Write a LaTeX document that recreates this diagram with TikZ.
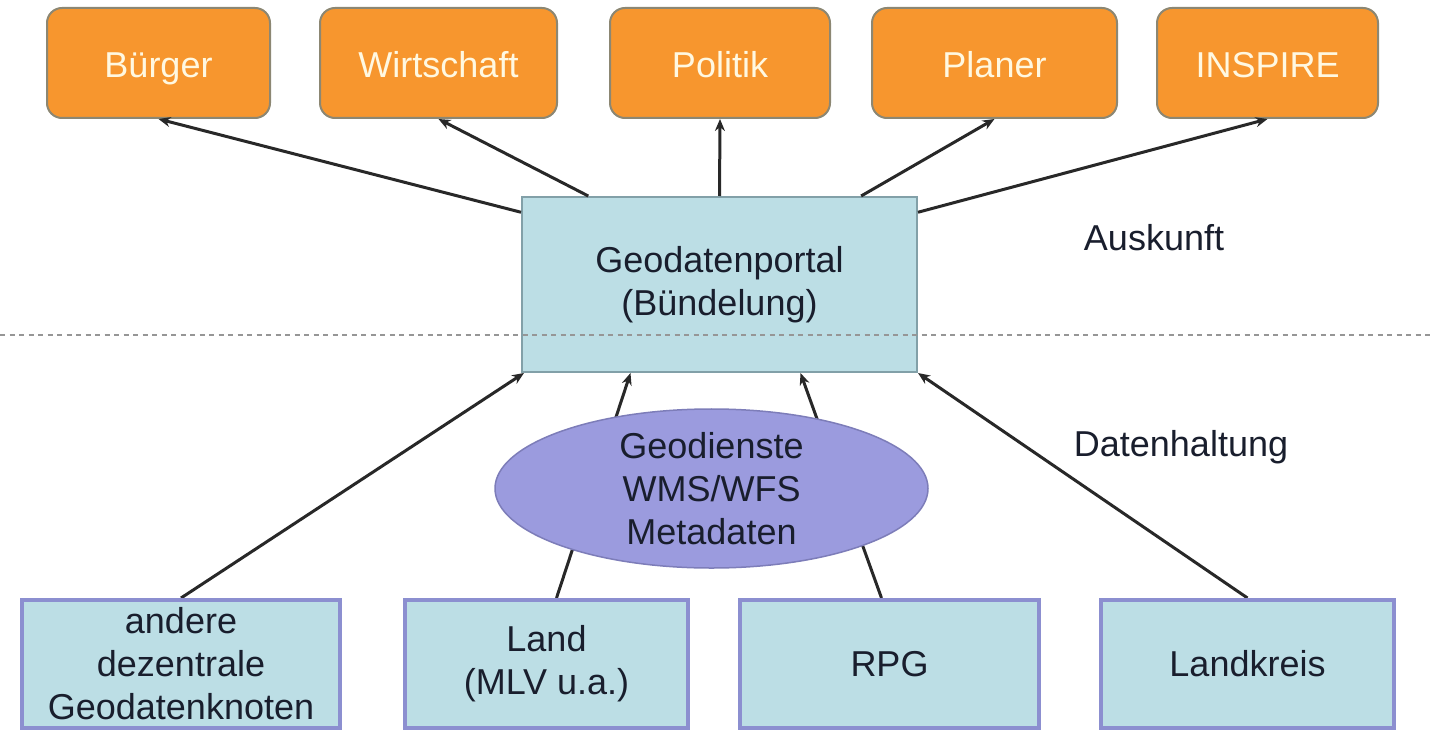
\documentclass[tikz,border=0pt]{standalone}
\usepackage{fontspec}
\setmainfont{Liberation Sans}
\usetikzlibrary{arrows.meta,calc,shapes.geometric,backgrounds}

\definecolor{orangefill}{RGB}{247,150,46}
\definecolor{orangeborder}{RGB}{140,135,115}
\definecolor{orangetext}{RGB}{255,248,225}
\definecolor{bluefill}{RGB}{188,222,229}
\definecolor{portalborder}{RGB}{130,160,168}
\definecolor{boxborder}{RGB}{140,143,208}
\definecolor{ellfill}{RGB}{155,155,222}
\definecolor{ellborder}{RGB}{125,125,185}
\definecolor{darktext}{RGB}{25,30,45}
\definecolor{linecol}{RGB}{40,40,40}
\definecolor{dotcol}{RGB}{150,150,150}

\begin{document}
\begin{tikzpicture}[x=1pt,y=-1pt,
  every node/.style={font=\fontsize{36}{43}\selectfont, align=center, inner sep=0pt},
  userbox/.style={draw=orangeborder, line width=2pt, fill=orangefill, rounded corners=15pt,
    minimum height=110pt, text=orangetext, text height=30pt, text depth=0pt},
  portalbox/.style={draw=portalborder, line width=2pt, fill=bluefill,
    minimum width=395pt, minimum height=175pt, text=darktext},
  srcbox/.style={draw=boxborder, line width=4pt, fill=bluefill, minimum height=128pt, text=darktext},
  svc/.style={ellipse, draw=ellborder, line width=1.5pt, fill=ellfill,
    minimum width=433pt, minimum height=147pt, text=darktext},
  arr/.style={draw=linecol, line width=3pt, -{Stealth[length=12pt,width=10pt]}},
  lbl/.style={text=darktext},
  dotline/.style={draw=dotcol, line width=2pt, dash pattern=on 5pt off 4.5pt},
]
\useasboundingbox (0,0) rectangle (1431,733);

% top: users
\node[userbox, minimum width=223pt] (buerger) at (158.5,63) {Bürger};
\node[userbox, minimum width=237pt] (wirtschaft) at (438.5,63) {Wirtschaft};
\node[userbox, minimum width=220pt] (politik) at (720,63) {Politik};
\node[userbox, minimum width=245pt] (planer) at (994.5,63) {Planer};
\node[userbox, minimum width=221pt] (inspire) at (1267.5,63) {INSPIRE};

% portal
\node[portalbox] (portal) at (719.5,284.5) {Geodatenportal\\(Bündelung)};

% bottom sources
\node[srcbox, minimum width=318pt] (andere) at (181,664) {andere\\dezentrale\\Geodatenknoten};
\node[srcbox, minimum width=283pt] (land) at (546.5,664) {Land\\(MLV u.a.)};
\node[srcbox, minimum width=299pt] (rpg) at (889.5,664) {RPG};
\node[srcbox, minimum width=293pt] (kreis) at (1247.5,664) {Landkreis};

% services ellipse
\node[svc] (dienste) at (711.5,488.5) {Geodienste\\WMS/WFS\\Metadaten};

% labels
\node[lbl] (auskunft) at (1154,238) {Auskunft};
\node[lbl] (datenhaltung) at (1181,447) {Datenhaltung};

% arrows portal -> users
\draw[arr] (portal.160) -- (buerger.south);
\draw[arr] (portal.146) -- (wirtschaft.south);
\draw[arr] (portal.north) -- (politik.south);
\draw[arr] (portal.32) -- (planer.south);
\draw[arr] (portal.20) -- (inspire.south);

% arrows sources -> portal (behind ellipse)
\begin{scope}[on background layer]
\draw[arr] (andere.north) -- ($(portal.south west)+(3,0)$);
\draw[arr] ($(land.north)+(10,0)$) -- ($(portal.south)+(-89,0)$);
\draw[arr] ($(rpg.north)+(-8,0)$) -- ($(portal.south)+(81,0)$);
\draw[arr] (kreis.north) -- (portal.south east);
\end{scope}

% dotted separator
\coordinate (dl) at (0,335);
\coordinate (dr) at (1431,335);
\draw[dotline] (dl) -- (dr);
\end{tikzpicture}
\end{document}
